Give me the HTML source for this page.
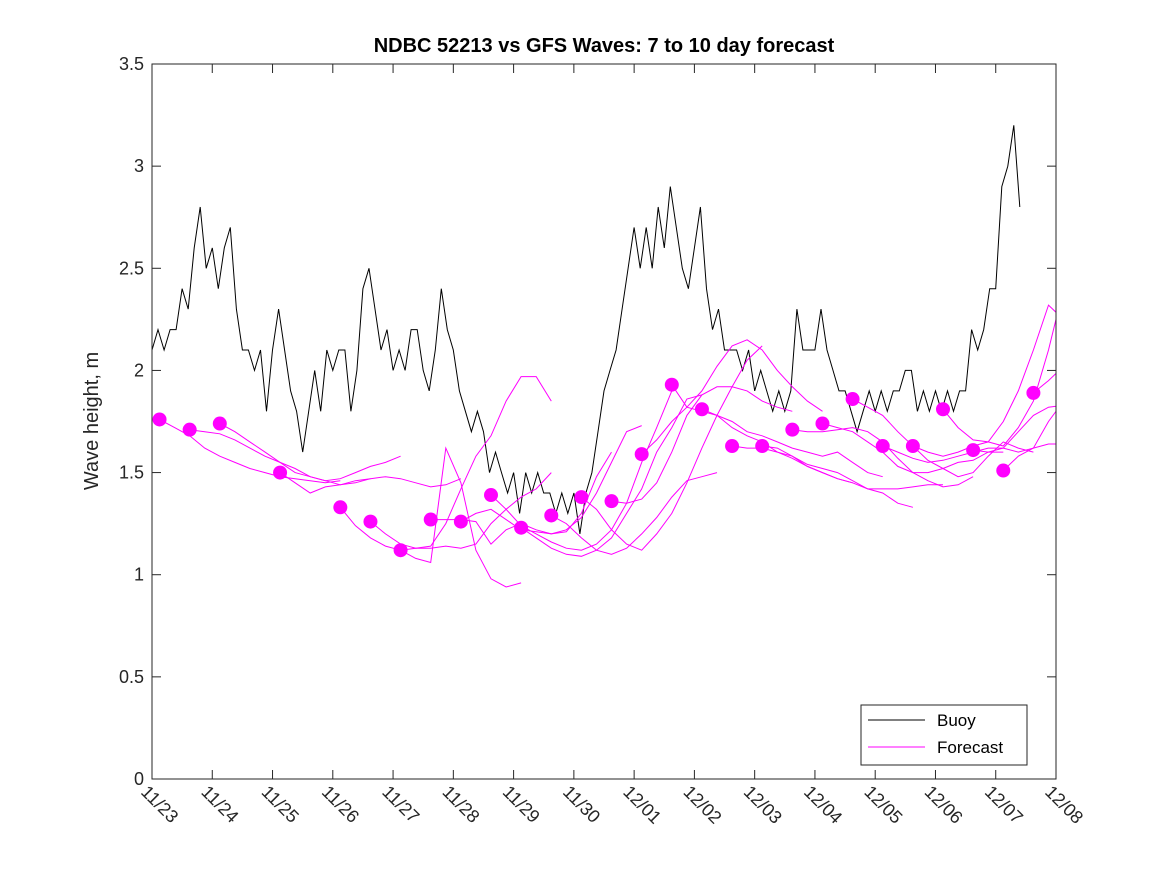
<!DOCTYPE html>
<html><head><meta charset="utf-8"><style>
body{margin:0;background:#fff}
svg{display:block;font-family:"Liberation Sans",sans-serif}
</style></head><body>
<svg id="chart" width="1167" height="875" viewBox="0 0 1167 875">
<rect width="1167" height="875" fill="#fff"/>
<text x="604" y="52" text-anchor="middle" font-size="20" font-weight="bold">NDBC 52213 vs GFS Waves: 7 to 10 day forecast</text>
<text transform="translate(98,421) rotate(-90)" text-anchor="middle" font-size="20" fill="#262626">Wave height, m</text>
<g id="plot"></g>
<g id="axes"></g>
<g>
<rect x="861" y="705" width="166" height="60" fill="#fff" stroke="#262626" stroke-width="1"/>
<line x1="868" y1="720" x2="925" y2="720" stroke="#000" stroke-width="1"/>
<text x="937" y="726" font-size="17" fill="#000">Buoy</text>
<line x1="868" y1="747" x2="925" y2="747" stroke="#f0f" stroke-width="1"/>
<text x="937" y="753" font-size="17" fill="#000">Forecast</text>
</g>
</svg>
<script>
const xTickLabels=["11/23","11/24","11/25","11/26","11/27","11/28","11/29","11/30","12/01","12/02","12/03","12/04","12/05","12/06","12/07","12/08"];
const yTicks=[0,0.5,1,1.5,2,2.5,3,3.5];
const buoyStep=0.1;
const buoyHeight=[2.1,2.2,2.1,2.2,2.2,2.4,2.3,2.6,2.8,2.5,2.6,2.4,2.6,2.7,2.3,2.1,2.1,2.0,2.1,1.8,2.1,2.3,2.1,1.9,1.8,1.6,1.8,2.0,1.8,2.1,2.0,2.1,2.1,1.8,2.0,2.4,2.5,2.3,2.1,2.2,2.0,2.1,2.0,2.2,2.2,2.0,1.9,2.1,2.4,2.2,2.1,1.9,1.8,1.7,1.8,1.7,1.5,1.6,1.5,1.4,1.5,1.3,1.5,1.4,1.5,1.4,1.4,1.3,1.4,1.3,1.4,1.2,1.4,1.5,1.7,1.9,2.0,2.1,2.3,2.5,2.7,2.5,2.7,2.5,2.8,2.6,2.9,2.7,2.5,2.4,2.6,2.8,2.4,2.2,2.3,2.1,2.1,2.1,2.0,2.1,1.9,2.0,1.9,1.8,1.9,1.8,1.9,2.3,2.1,2.1,2.1,2.3,2.1,2.0,1.9,1.9,1.8,1.7,1.8,1.9,1.8,1.9,1.8,1.9,1.9,2.0,2.0,1.8,1.9,1.8,1.9,1.8,1.9,1.8,1.9,1.9,2.2,2.1,2.2,2.4,2.4,2.9,3.0,3.2,2.8];
const fcStep=0.25;
const fcStart=[0.125,0.625,1.125,2.125,3.125,3.625,4.125,4.625,5.125,5.625,6.125,6.625,7.125,7.625,8.125,8.625,9.125,9.625,10.125,10.625,11.125,11.625,12.125,12.625,13.125,13.625,14.125,14.625];
const fcValues=[
[1.76,1.72,1.68,1.62,1.58,1.55,1.52,1.50,1.48,1.47,1.46,1.45,1.46],
[1.71,1.70,1.69,1.66,1.62,1.58,1.55,1.52,1.48,1.46,1.44,1.45,1.47],
[1.74,1.70,1.65,1.60,1.55,1.50,1.48,1.46,1.47,1.50,1.53,1.55,1.58],
[1.50,1.45,1.40,1.43,1.44,1.46,1.47,1.48,1.47,1.45,1.43,1.44,1.47],
[1.33,1.24,1.18,1.14,1.12,1.08,1.06,1.62,1.45,1.12,0.98,0.94,0.96],
[1.26,1.20,1.15,1.13,1.13,1.14,1.13,1.15,1.25,1.32,1.38,1.42,1.50],
[1.12,1.13,1.14,1.25,1.42,1.58,1.68,1.85,1.97,1.97,1.85],
[1.27,1.27,1.27,1.26,1.15,1.22,1.25,1.22,1.20,1.21,1.30,1.48,1.60],
[1.26,1.30,1.32,1.27,1.22,1.21,1.20,1.22,1.28,1.40,1.55,1.70,1.73],
[1.39,1.32,1.24,1.20,1.16,1.13,1.12,1.15,1.22,1.35,1.55,1.72,1.90],
[1.23,1.18,1.13,1.10,1.09,1.12,1.18,1.30,1.42,1.60,1.72,1.86,1.88],
[1.29,1.25,1.18,1.12,1.10,1.13,1.20,1.28,1.38,1.46,1.48,1.50],
[1.38,1.32,1.22,1.15,1.12,1.20,1.30,1.45,1.62,1.78,1.92,2.05,2.12],
[1.36,1.35,1.37,1.45,1.60,1.78,1.88,1.92,1.92,1.90,1.85,1.82,1.80],
[1.59,1.66,1.75,1.82,1.90,2.02,2.12,2.15,2.10,2.00,1.92,1.85,1.80],
[1.93,1.82,1.80,1.78,1.72,1.68,1.65,1.60,1.58,1.53,1.50,1.47,1.45],
[1.81,1.78,1.75,1.70,1.68,1.65,1.62,1.60,1.58,1.60,1.55,1.50,1.48],
[1.63,1.62,1.62,1.60,1.57,1.53,1.50,1.47,1.45,1.42,1.40,1.35,1.33],
[1.63,1.62,1.58,1.54,1.52,1.50,1.46,1.42,1.42,1.42,1.43,1.44,1.44],
[1.71,1.70,1.70,1.71,1.72,1.70,1.65,1.57,1.50,1.46,1.43,1.44,1.48],
[1.74,1.72,1.70,1.65,1.60,1.53,1.50,1.50,1.52,1.55,1.56,1.60,1.60],
[1.86,1.82,1.78,1.70,1.63,1.56,1.52,1.48,1.50,1.58,1.65,1.62,1.60],
[1.63,1.60,1.57,1.55,1.56,1.58,1.60,1.62,1.62,1.60,1.62,1.75,1.85],
[1.63,1.60,1.58,1.60,1.63,1.65,1.75,1.90,2.10,2.32,2.25,2.12,2.00],
[1.81,1.72,1.66,1.65,1.63,1.72,1.85,2.10,2.40,2.48,2.35,2.20,2.05],
[1.61,1.60,1.62,1.70,1.78,1.82,1.83,1.80],
[1.51,1.58,1.62,1.64,1.64],
[1.89,1.95,2.02]];

const X0=152,X1=1056,Y0=779,Y1=64,XMAX=15,YMAX=3.5;
const xs=d=>X0+(X1-X0)*d/XMAX;
const ys=v=>Y0-(Y0-Y1)*v/YMAX;
const NS="http://www.w3.org/2000/svg";
function mk(tag,parent){const e=document.createElementNS(NS,tag);parent.appendChild(e);return e;}
const plot=document.getElementById('plot');
const axes=document.getElementById('axes');

const clip=mk('clipPath',plot);clip.setAttribute('id','pc');
const cr=mk('rect',clip);cr.setAttribute('x',X0);cr.setAttribute('y',Y1);cr.setAttribute('width',X1-X0);cr.setAttribute('height',Y0-Y1);
const g=mk('g',plot);g.setAttribute('clip-path','url(#pc)');



// buoy
const bp=mk('polyline',g);
bp.setAttribute('points',buoyHeight.map((v,i)=>xs(i*buoyStep).toFixed(1)+','+ys(v).toFixed(1)).join(' '));
bp.setAttribute('fill','none');bp.setAttribute('stroke','#000');bp.setAttribute('stroke-width','1');



// forecasts
fcValues.forEach((vals,j)=>{
  const p=mk('polyline',g);
  p.setAttribute('points',vals.map((v,i)=>xs(fcStart[j]+i*fcStep).toFixed(1)+','+ys(v).toFixed(1)).join(' '));
  p.setAttribute('fill','none');p.setAttribute('stroke','#f0f');p.setAttribute('stroke-width','1');
  
  
});
fcValues.forEach((vals,j)=>{
  const c=mk('circle',g);
  c.setAttribute('cx',xs(fcStart[j]));c.setAttribute('cy',ys(vals[0]));c.setAttribute('r','7');c.setAttribute('fill','#f0f');
  
  
});

// frame
const fr=mk('rect',axes);
fr.setAttribute('x',X0);fr.setAttribute('y',Y1);fr.setAttribute('width',X1-X0);fr.setAttribute('height',Y0-Y1);
fr.setAttribute('fill','none');fr.setAttribute('stroke','#262626');fr.setAttribute('stroke-width','1');



yTicks.forEach(v=>{
  const y=ys(v);
  [[X0,X0+9],[X1,X1-9]].forEach(([a,b])=>{const l=mk('line',axes);l.setAttribute('x1',a);l.setAttribute('x2',b);l.setAttribute('y1',y);l.setAttribute('y2',y);l.setAttribute('stroke','#262626');
    
    });
  const t=mk('text',axes);t.setAttribute('x',X0-8);t.setAttribute('y',y+6);t.setAttribute('text-anchor','end');t.setAttribute('font-size','18');t.setAttribute('fill','#262626');
  t.textContent=String(v);
  
  
});
xTickLabels.forEach((s,i)=>{
  const x=xs(i);
  [[Y0,Y0-9],[Y1,Y1+9]].forEach(([a,b])=>{const l=mk('line',axes);l.setAttribute('x1',x);l.setAttribute('x2',x);l.setAttribute('y1',a);l.setAttribute('y2',b);l.setAttribute('stroke','#262626');
    
    });
  const t=mk('text',axes);t.setAttribute('transform','translate('+(x-12)+','+(Y0+14)+') rotate(45)');t.setAttribute('font-size','18');t.setAttribute('fill','#262626');
  t.textContent=s;
  
  
});
</script>
</body></html>
